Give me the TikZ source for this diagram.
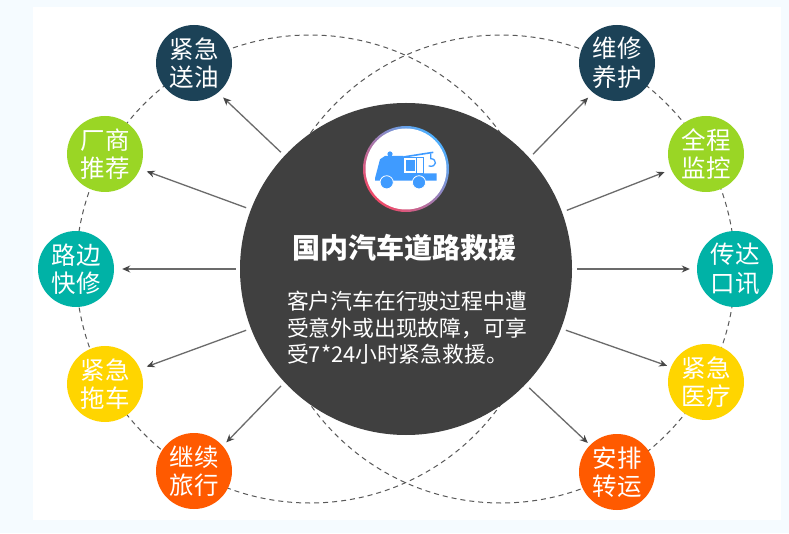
\documentclass[tikz,border=0pt]{standalone}
\usepackage{fontspec}
\newfontfamily\cjk{Noto Sans CJK SC}
\usetikzlibrary{arrows.meta}
\definecolor{pagebg}{HTML}{F5FBFF}
\definecolor{hubgray}{HTML}{404040}
\definecolor{navy}{HTML}{1C4257}
\definecolor{leaf}{HTML}{9AD625}
\definecolor{teal2}{HTML}{00B2A6}
\definecolor{sun}{HTML}{FFD500}
\definecolor{flame}{HTML}{FF5A00}
\definecolor{truck}{HTML}{3F9BFF}
\definecolor{ringblue}{HTML}{4DB0FF}
\definecolor{ringred}{HTML}{F04A68}
\definecolor{ringmid}{HTML}{A060C0}

\begin{document}
\begin{tikzpicture}
[x=1pt,y=1pt
,svc/.style={circle,minimum size=76pt,inner sep=0pt,text=white,align=center,font=\cjk\fontsize{24.5}{28.5}\selectfont}
,ring/.style={draw=black!65,dash pattern=on 5pt off 4pt,line width=1pt}
,arr/.style={draw=black!58,line width=1.3pt,arrows={-Stealth[length=8pt,width=7pt,black!72]}}
]
\useasboundingbox (0,0) rectangle (789,533);
\fill[pagebg] (0,0) rectangle (789,533);
\fill[white] (33,13) rectangle (781,526);
\draw[ring] (310,264) circle[radius=234pt];
\draw[ring] (501,264) circle[radius=234pt];
\node[circle,fill=hubgray,minimum size=332pt,inner sep=0pt] (hub) at (406,264) {};
\node[svc,fill=navy] (n1) at (194,470) {紧急\\送油};
\node[svc,fill=leaf] (n2) at (105,379) {厂商\\推荐};
\node[svc,fill=teal2] (n3) at (76,264) {路边\\快修};
\node[svc,fill=sun] (n4) at (105,149) {紧急\\拖车};
\node[svc,fill=flame] (n5) at (194,62) {继续\\旅行};
\node[svc,fill=navy] (n6) at (617,470) {维修\\养护};
\node[svc,fill=leaf] (n7) at (706,379) {全程\\监控};
\node[svc,fill=teal2] (n8) at (735,264) {传达\\口讯};
\node[svc,fill=sun] (n9) at (706,151) {紧急\\医疗};
\node[svc,fill=flame] (n10) at (617,61) {安排\\转运};
\draw[arr,shorten <=5pt,shorten >=7pt] (hub.137.2) -- (n1.309.5);
\draw[arr,shorten <=5pt,shorten >=7pt] (hub.159.2) -- (n2.337.5);
\draw[arr,shorten <=4pt,shorten >=8pt] (hub.180) -- (n3.0);
\draw[arr,shorten <=5pt,shorten >=7pt] (hub.201.1) -- (n4.23.7);
\draw[arr,shorten <=5pt,shorten >=5pt] (hub.223.8) -- (n5.41.2);
\draw[arr,shorten <=5pt,shorten >=7pt] (hub.42.6) -- (n6.231);
\draw[arr,shorten <=5pt,shorten >=7pt] (hub.20.7) -- (n7.204.2);
\draw[arr,shorten <=5pt,shorten >=7pt] (hub.0) -- (n8.180);
\draw[arr,shorten <=5pt,shorten >=4pt] (hub.339.1) -- (n9.157.2);
\draw[arr,shorten <=5pt,shorten >=3pt] (hub.316.4) -- (n10.135);
% icon
\shade[left color=ringblue,middle color=ringmid,right color=ringred,shading angle=-45] (406,364) circle[radius=43pt];
\fill[white] (406,364) circle[radius=40.5pt];
\begin{scope}[shift={(340,423)},x=0.3333pt,y=-0.3333pt]
\fill[truck] (105,212) -- (105,205) -- (120,148) -- (135,138) -- (190,138) -- (190,190) -- (290,190) -- (290,212) -- cycle;
\fill[truck] (150,132) circle[radius=2.6pt];
\fill[truck] (197,150) rectangle (224,184);
\draw[truck,line width=0.9pt] (190,142) rectangle (250,190);
\draw[truck,line width=0.9pt] (228,142) -- (228,190);
\draw[truck,line width=1.6pt] (190,141) -- (280,127);
\draw[truck,line width=1.3pt] (272,130) -- (272,146) .. controls (292,146) and (292,174) .. (266,168);
\fill[truck,draw=white,line width=0.8pt] (140,217) circle[radius=6.6pt];
\fill[truck,draw=white,line width=0.8pt] (237,217) circle[radius=6.6pt];
\end{scope}
\node[text=white,font=\cjk\bfseries\fontsize{28}{32}\selectfont] (title) at (404,285) {国内汽车道路救援};
\node[text=white,align=left,inner sep=0pt,font=\cjk\fontsize{21.8}{26.5}\selectfont] (body) at (407,205) {客户汽车在行驶过程中遭\\受意外或出现故障，可享\\受7*24小时紧急救援。};
\end{tikzpicture}
\end{document}
